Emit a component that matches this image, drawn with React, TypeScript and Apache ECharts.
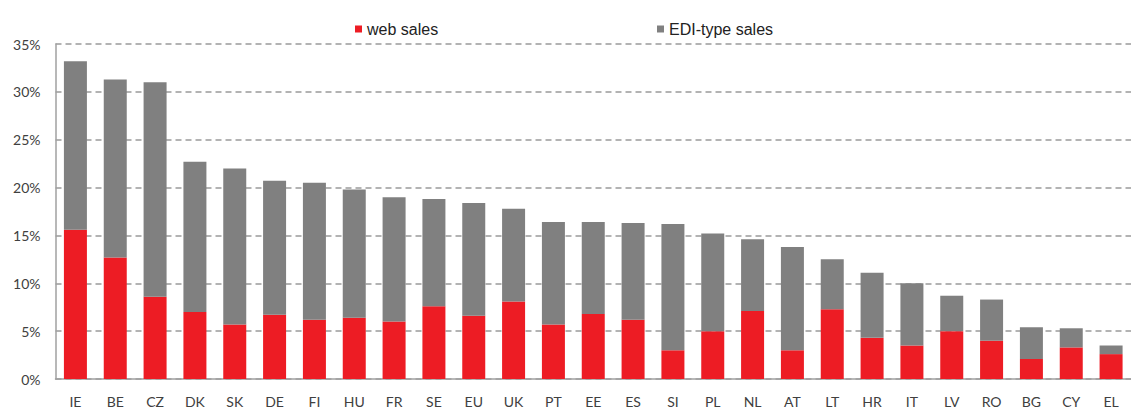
import React, { useEffect, useRef } from "react";
import * as echarts from "echarts";

const categories = ["IE","BE","CZ","DK","SK","DE","FI","HU","FR","SE","EU","UK","PT","EE","ES","SI","PL","NL","AT","LT","HR","IT","LV","RO","BG","CY","EL"];
const webSales = [15.6,12.7,8.6,7.0,5.7,6.7,6.2,6.4,6.0,7.6,6.6,8.1,5.7,6.8,6.2,3.0,5.0,7.1,3.0,7.3,4.3,3.5,5.0,4.0,2.1,3.3,2.6];
const ediSales = [17.6,18.6,22.4,15.7,16.3,14.0,14.3,13.4,13.0,11.2,11.8,9.7,10.7,9.6,10.1,13.2,10.2,7.5,10.8,5.2,6.8,6.5,3.7,4.3,3.3,2.0,0.9];
const yTicks = { min: 0, max: 35, interval: 5 };

export default function App() {
  const ref = useRef<HTMLDivElement>(null);
  useEffect(() => {
    document.body.style.margin = "0";
    const chart = echarts.init(ref.current!, null, { renderer: "svg" });
    const legendText = { fontFamily: "Liberation Sans", fontSize: 16, color: "#222" };
    chart.setOption({
      animation: false,
      legend: [
        { data: ["web sales"], left: 350, top: 16, itemWidth: 7, itemHeight: 7, icon: "rect", textStyle: legendText },
        { data: ["EDI-type sales"], left: 652, top: 16, itemWidth: 7, itemHeight: 7, icon: "rect", textStyle: legendText },
      ],
      grid: { left: 55.5, top: 44, width: 1088, bottom: 30, containLabel: false },
      xAxis: {
        type: "category",
        data: categories,
        axisLine: { lineStyle: { color: "#a0a0a0", width: 1.5 } },
        axisTick: { show: false },
        axisLabel: { color: "#404040", fontFamily: "Lato", fontSize: 14, margin: 15, interval: 0 },
      },
      yAxis: {
        type: "value",
        min: yTicks.min,
        max: yTicks.max,
        interval: yTicks.interval,
        axisLine: { show: true, lineStyle: { color: "#a0a0a0", width: 1.5 } },
        axisTick: { show: false },
        axisLabel: { formatter: "{value}%", color: "#404040", fontFamily: "Lato", fontSize: 14, margin: 15 },
        splitLine: { lineStyle: { color: "#9a9a9a", width: 1.5, type: [6, 4] } },
      },
      series: [
        { name: "web sales", type: "bar", stack: "s", data: webSales, barWidth: 23, itemStyle: { color: "#ed1c24" } },
        { name: "EDI-type sales", type: "bar", stack: "s", data: ediSales, barWidth: 23, itemStyle: { color: "#808080" } },
      ],
    });
    return () => chart.dispose();
  }, []);
  return <div ref={ref} style={{ width: 1131, height: 409 }} />;
}
